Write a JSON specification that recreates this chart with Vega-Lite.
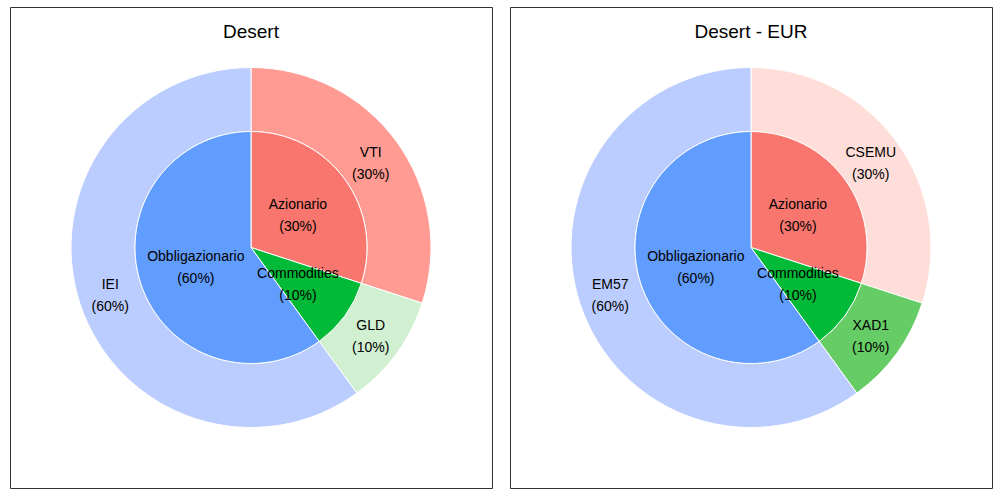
{
  "$schema": "https://vega.github.io/schema/vega-lite/v6.json",
  "background": "white",
  "padding": {"left": 9, "top": 6, "right": 0, "bottom": 0},
  "spacing": 16,
  "config": {
    "view": {"stroke": "#333333", "strokeWidth": 1},
    "font": "Liberation Sans",
    "title": {"font": "Liberation Sans", "fontSize": 19, "fontWeight": "normal", "color": "#000000", "anchor": "middle", "baseline": "alphabetic", "offset": -35}
  },
  "datasets": {
    "desert": [
      {"level": "inner", "name": "Azionario", "pct": 30, "ord": 1, "label": "Azionario\n(30%)"},
      {"level": "inner", "name": "Commodities", "pct": 10, "ord": 2, "label": "Commodities\n(10%)"},
      {"level": "inner", "name": "Obbligazionario", "pct": 60, "ord": 3, "label": "Obbligazionario\n(60%)"},
      {"level": "outer", "name": "VTI", "pct": 30, "ord": 1, "label": "VTI\n(30%)"},
      {"level": "outer", "name": "GLD", "pct": 10, "ord": 2, "label": "GLD\n(10%)"},
      {"level": "outer", "name": "IEI", "pct": 60, "ord": 3, "label": "IEI\n(60%)"}
    ],
    "eur": [
      {"level": "inner", "name": "Azionario", "pct": 30, "ord": 1, "label": "Azionario\n(30%)"},
      {"level": "inner", "name": "Commodities", "pct": 10, "ord": 2, "label": "Commodities\n(10%)"},
      {"level": "inner", "name": "Obbligazionario", "pct": 60, "ord": 3, "label": "Obbligazionario\n(60%)"},
      {"level": "outer", "name": "CSEMU", "pct": 30, "ord": 1, "label": "CSEMU\n(30%)"},
      {"level": "outer", "name": "XAD1", "pct": 10, "ord": 2, "label": "XAD1\n(10%)"},
      {"level": "outer", "name": "EM57", "pct": 60, "ord": 3, "label": "EM57\n(60%)"}
    ]
  },
  "hconcat": [
    {
      "title": "Desert",
      "width": 482,
      "height": 481,
      "view": {"stroke": "#333333", "strokeWidth": 1},
      "data": {"name": "desert"},
      "layer": [
        {
          "transform": [{"filter": "datum.level === 'outer'"}],
          "mark": {"type": "arc", "radius": 180, "radius2": 116, "stroke": "white", "strokeWidth": 1},
          "encoding": {
            "theta": {"field": "pct", "type": "quantitative", "stack": true},
            "order": {"field": "ord", "type": "quantitative"},
            "color": {"field": "name", "type": "nominal", "legend": null,
              "scale": {"domain": ["Azionario", "Commodities", "Obbligazionario", "VTI", "GLD", "IEI", "CSEMU", "XAD1", "EM57"],
                        "range": ["#F8766D", "#00BA38", "#619CFF", "#FF9B92", "#D1F0D1", "#BBCCFF", "#FFDDD8", "#66CC66", "#BBCCFF"]}}
          }
        },
        {
          "transform": [{"filter": "datum.level === 'inner'"}],
          "mark": {"type": "arc", "radius": 116, "radius2": 0, "stroke": "white", "strokeWidth": 1},
          "encoding": {
            "theta": {"field": "pct", "type": "quantitative", "stack": true},
            "order": {"field": "ord", "type": "quantitative"},
            "color": {"field": "name", "type": "nominal", "legend": null}
          }
        },
        {
          "transform": [{"filter": "datum.level === 'outer'"}],
          "mark": {"type": "text", "radius": 148, "align": "center", "baseline": "middle", "dy": -8, "lineBreak": "\n", "fontSize": 14, "lineHeight": 22, "color": "#000000"},
          "encoding": {
            "theta": {"field": "pct", "type": "quantitative", "stack": true},
            "order": {"field": "ord", "type": "quantitative"},
            "text": {"field": "label", "type": "nominal"}
          }
        },
        {
          "transform": [{"filter": "datum.level === 'inner'"}],
          "mark": {"type": "text", "radius": 58, "align": "center", "baseline": "middle", "dy": -8, "lineBreak": "\n", "fontSize": 14, "lineHeight": 22, "color": "#000000"},
          "encoding": {
            "theta": {"field": "pct", "type": "quantitative", "stack": true},
            "order": {"field": "ord", "type": "quantitative"},
            "text": {"field": "label", "type": "nominal"}
          }
        }
      ]
    },
    {
      "title": "Desert - EUR",
      "width": 482,
      "height": 481,
      "view": {"stroke": "#333333", "strokeWidth": 1},
      "data": {"name": "eur"},
      "layer": [
        {
          "transform": [{"filter": "datum.level === 'outer'"}],
          "mark": {"type": "arc", "radius": 180, "radius2": 116, "stroke": "white", "strokeWidth": 1},
          "encoding": {
            "theta": {"field": "pct", "type": "quantitative", "stack": true},
            "order": {"field": "ord", "type": "quantitative"},
            "color": {"field": "name", "type": "nominal", "legend": null,
              "scale": {"domain": ["Azionario", "Commodities", "Obbligazionario", "VTI", "GLD", "IEI", "CSEMU", "XAD1", "EM57"],
                        "range": ["#F8766D", "#00BA38", "#619CFF", "#FF9B92", "#D1F0D1", "#BBCCFF", "#FFDDD8", "#66CC66", "#BBCCFF"]}}
          }
        },
        {
          "transform": [{"filter": "datum.level === 'inner'"}],
          "mark": {"type": "arc", "radius": 116, "radius2": 0, "stroke": "white", "strokeWidth": 1},
          "encoding": {
            "theta": {"field": "pct", "type": "quantitative", "stack": true},
            "order": {"field": "ord", "type": "quantitative"},
            "color": {"field": "name", "type": "nominal", "legend": null}
          }
        },
        {
          "transform": [{"filter": "datum.level === 'outer'"}],
          "mark": {"type": "text", "radius": 148, "align": "center", "baseline": "middle", "dy": -8, "lineBreak": "\n", "fontSize": 14, "lineHeight": 22, "color": "#000000"},
          "encoding": {
            "theta": {"field": "pct", "type": "quantitative", "stack": true},
            "order": {"field": "ord", "type": "quantitative"},
            "text": {"field": "label", "type": "nominal"}
          }
        },
        {
          "transform": [{"filter": "datum.level === 'inner'"}],
          "mark": {"type": "text", "radius": 58, "align": "center", "baseline": "middle", "dy": -8, "lineBreak": "\n", "fontSize": 14, "lineHeight": 22, "color": "#000000"},
          "encoding": {
            "theta": {"field": "pct", "type": "quantitative", "stack": true},
            "order": {"field": "ord", "type": "quantitative"},
            "text": {"field": "label", "type": "nominal"}
          }
        }
      ]
    }
  ]
}
